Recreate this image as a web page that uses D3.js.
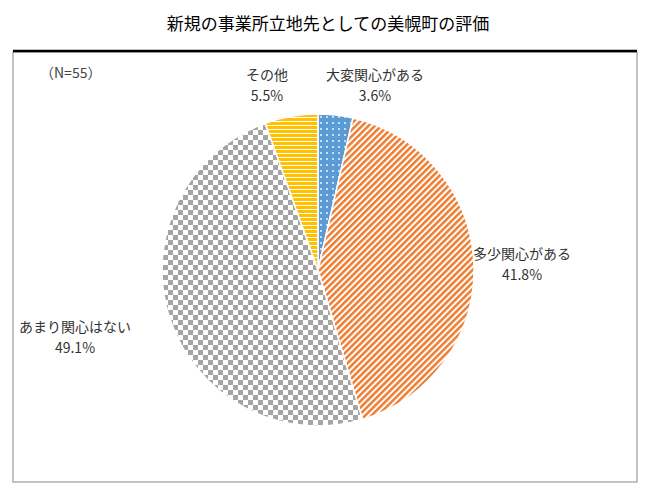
<!DOCTYPE html>
<html><head><meta charset="utf-8">
<script src="https://cdn.jsdelivr.net/npm/d3@7"></script>
<style>body{margin:0;background:#fff}text{font-family:"Noto Sans CJK JP",sans-serif}</style>
</head><body><svg id="c" width="656" height="489"></svg>
<script>
var categories = ["大変関心がある", "多少関心がある", "あまり関心はない", "その他"];
var values = [3.6, 41.8, 49.1, 5.5];
var labelPos = [[375, 80], [522, 259], [75, 332], [267, 80]];

var svg = d3.select("#c");
var defs = svg.append("defs");
// patterns
var p = defs.append("pattern").attr("id", "p0").attr("width", 6).attr("height", 6).attr("patternUnits", "userSpaceOnUse");
p.append("rect").attr("width", 6).attr("height", 6).attr("fill", "#5b9bd5");
p.append("circle").attr("cx", 3).attr("cy", 3).attr("r", 0.9).attr("fill", "#fff");
p = defs.append("pattern").attr("id", "p1").attr("width", 4.5).attr("height", 4.5).attr("patternUnits", "userSpaceOnUse").attr("patternTransform", "rotate(45)");
p.append("rect").attr("width", 4.5).attr("height", 4.5).attr("fill", "#fff");
p.append("rect").attr("width", 2.5).attr("height", 4.5).attr("fill", "#ed7d31");
p = defs.append("pattern").attr("id", "p2").attr("width", 10).attr("height", 10).attr("patternUnits", "userSpaceOnUse");
p.append("rect").attr("width", 10).attr("height", 10).attr("fill", "#fff");
p.append("rect").attr("width", 5).attr("height", 5).attr("fill", "#a5a5a5");
p.append("rect").attr("x", 5).attr("y", 5).attr("width", 5).attr("height", 5).attr("fill", "#a5a5a5");
p = defs.append("pattern").attr("id", "p3").attr("width", 4).attr("height", 4).attr("patternUnits", "userSpaceOnUse");
p.append("rect").attr("width", 4).attr("height", 4).attr("fill", "#fff");
p.append("rect").attr("width", 4).attr("height", 3).attr("fill", "#ffc000");

// title and frame
svg.append("text").attr("x", 328).attr("y", 30).attr("text-anchor", "middle").attr("font-size", 17).text("新規の事業所立地先としての美幌町の評価");
svg.append("rect").attr("x", 13).attr("y", 52).attr("width", 624).attr("height", 430).attr("fill", "none").attr("stroke", "#888");
svg.append("line").attr("x1", 13).attr("x2", 637).attr("y1", 51).attr("y2", 51).attr("stroke", "#000").attr("stroke-width", 2.5);
svg.append("text").attr("x", 40).attr("y", 78).attr("font-size", 14).attr("fill", "#444").text("（N=55）");

var pie = d3.pie().sort(null).value(function(d){ return d; });
var arc = d3.arc().innerRadius(0).outerRadius(156);
var g = svg.append("g").attr("transform", "translate(318,270)");
g.selectAll("path")
    .data(pie(values))
    .enter()
    .append("path")
    .attr("d", arc)
    .attr("fill", function(d, i){ return "url(#p" + i + ")"; })
    .attr("stroke", "#fff")
    .attr("stroke-width", 1.5);

categories.forEach(function(c, i){
    var t = svg.append("text").attr("x", labelPos[i][0]).attr("y", labelPos[i][1]).attr("text-anchor", "middle").attr("font-size", 14).attr("fill", "#333");
    t.append("tspan").attr("x", labelPos[i][0]).text(c);
    t.append("tspan").attr("x", labelPos[i][0]).attr("dy", 21).text(values[i].toFixed(1) + "%");
});
</script></body></html>
